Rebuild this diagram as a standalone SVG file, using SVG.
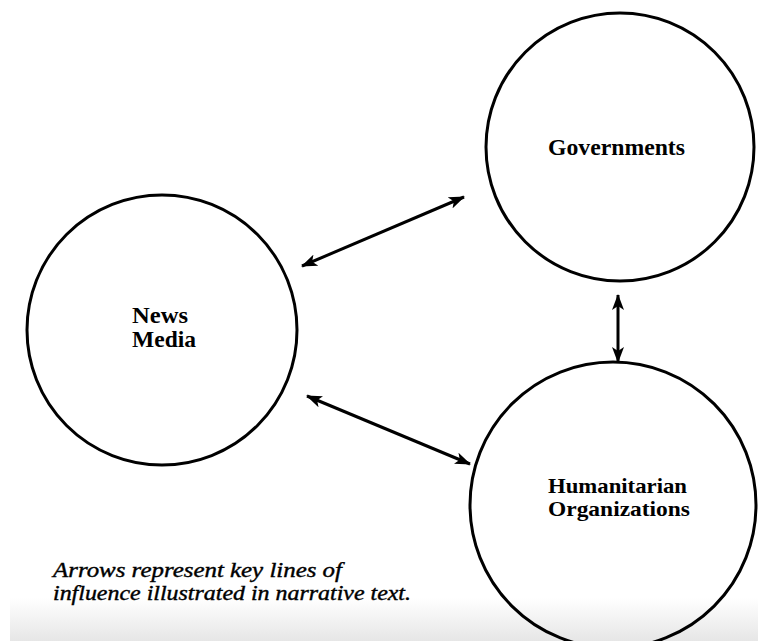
<svg xmlns="http://www.w3.org/2000/svg" width="758" height="641" viewBox="0 0 758 641">
  <style>
    .node { fill: none; stroke: #000; stroke-width: 3; }
    .label { font-family: "Liberation Serif", "Times New Roman", serif; font-weight: bold; font-size: 24px; fill: #000; }
    .label.tight { font-size: 22px; }
    .link { stroke: #000; stroke-width: 3; fill: none; marker-start: url(#head); marker-end: url(#head); }
    .note { font-family: "Liberation Serif", "Times New Roman", serif; font-style: italic; font-size: 21px; fill: #000; stroke: #000; stroke-width: 0.4; }
  </style>
  <defs>
    <marker id="head" viewBox="0 0 16 12" refX="15" refY="6" markerWidth="16" markerHeight="12" markerUnits="userSpaceOnUse" orient="auto-start-reverse">
      <path d="M0,0 L16,6 L0,12 L4,6 Z" fill="#000"/>
    </marker>
    <linearGradient id="fade" x1="0" y1="0" x2="0" y2="1">
      <stop offset="0" stop-color="#ffffff"/>
      <stop offset="1" stop-color="#e6e6e6"/>
    </linearGradient>
  </defs>

  <rect width="758" height="641" fill="#fff"/>
  <rect x="10" y="598" width="748" height="43" fill="url(#fade)"/>

  <g id="connectors">
    <line class="link" x1="302" y1="266" x2="464" y2="197"/>
    <line class="link" x1="307" y1="396" x2="470" y2="464"/>
    <line class="link" x1="618" y1="295" x2="618" y2="362"/>
  </g>

  <g id="governments">
    <circle class="node" cx="620" cy="147" r="134"/>
    <text class="label" x="548" y="155" textLength="137" lengthAdjust="spacingAndGlyphs">Governments</text>
  </g>

  <g id="news-media">
    <circle class="node" cx="162" cy="330" r="135"/>
    <text class="label" x="132" y="323" textLength="56" lengthAdjust="spacingAndGlyphs">News</text>
    <text class="label" x="132" y="347" textLength="64" lengthAdjust="spacingAndGlyphs">Media</text>
  </g>

  <g id="humanitarian-organizations">
    <circle class="node" cx="613" cy="505" r="143"/>
    <text class="label tight" x="548" y="493" textLength="139" lengthAdjust="spacingAndGlyphs">Humanitarian</text>
    <text class="label tight" x="548" y="516" textLength="142" lengthAdjust="spacingAndGlyphs">Organizations</text>
  </g>

  <g id="caption">
    <text class="note" x="53" y="577" textLength="289" lengthAdjust="spacingAndGlyphs">Arrows represent key lines of</text>
    <text class="note" x="53" y="600" textLength="358" lengthAdjust="spacingAndGlyphs">influence illustrated in narrative text.</text>
  </g>
</svg>
